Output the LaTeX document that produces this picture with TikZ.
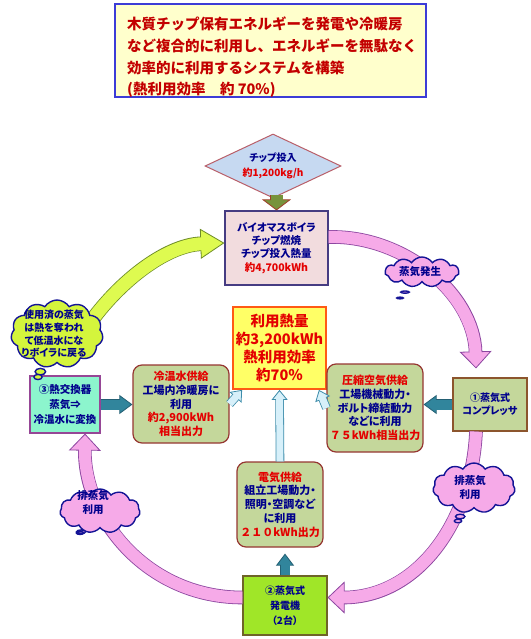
\documentclass[tikz,border=0pt]{standalone}
\usepackage{fontspec}
\setmainfont{Noto Sans CJK JP}[RawFeature=+palt]
\newfontfamily\goalfont{Noto Sans CJK JP}
\usepackage{xcolor}
\usepackage{tikz}
\usetikzlibrary{arrows.meta,shapes.geometric,shapes.symbols,shapes.callouts}

\definecolor{jpblue}{RGB}{0,0,140}
\definecolor{jpred}{RGB}{228,0,0}
\definecolor{goalred}{RGB}{195,0,0}
\definecolor{goalfill}{RGB}{255,255,204}
\definecolor{goalline}{RGB}{60,60,215}
\definecolor{chipfill}{RGB}{198,217,241}
\definecolor{chipline}{RGB}{185,95,105}
\definecolor{olivefill}{RGB}{119,147,60}
\definecolor{oliveline}{RGB}{160,60,40}
\definecolor{boilerfill}{RGB}{242,220,222}
\definecolor{boilerline}{RGB}{70,60,130}
\definecolor{heatfill}{RGB}{255,255,102}
\definecolor{heatline}{RGB}{255,90,20}
\definecolor{supplyfill}{RGB}{196,215,155}
\definecolor{supplyline}{RGB}{150,55,50}
\definecolor{compline}{RGB}{140,85,45}
\definecolor{hexfill}{RGB}{140,245,205}
\definecolor{hexline}{RGB}{150,70,150}
\definecolor{genfill}{RGB}{160,230,40}
\definecolor{genline}{RGB}{110,100,40}
\definecolor{tealfill}{RGB}{49,133,156}
\definecolor{tealline}{RGB}{35,95,115}
\definecolor{icefill}{RGB}{215,240,250}
\definecolor{iceline}{RGB}{60,140,170}
\definecolor{pinkfill}{RGB}{246,170,232}
\definecolor{pinkline}{RGB}{140,70,160}
\definecolor{limefill}{RGB}{222,250,80}
\definecolor{limeline}{RGB}{110,140,40}
\definecolor{cloudline}{RGB}{20,20,150}
\definecolor{cloudlime}{RGB}{212,245,60}

%% block arrow: outline colour, fill colour, shaft width, head width, head length, path
\newcommand\fatarrow[6]{%
  \draw[draw=#1, line width=#3+1.6pt, shorten >=#5-1pt] #6;
  \draw[draw=#1, line width=0.8pt, -{Triangle[width=#4, length=#5, fill=#2]}] #6;
  \draw[draw=#2, line width=#3, shorten >=#5-2pt] #6;
}

\begin{document}
\begin{tikzpicture}[x=1pt,y=-1pt,
    txt/.style={font=\bfseries\fontsize{11}{13.75}\selectfont, text=jpblue, align=center, inner sep=0pt},
    plainbox/.style={draw, line width=1.2pt, txt},
    supplybox/.style={plainbox, rounded corners=9pt, fill=supplyfill, draw=supplyline},
    puff/.style={cloud callout, cloud puffs=11, cloud puff arc=115, cloud ignores aspect,
                 draw=cloudline, line width=1.4pt, callout pointer segments=2,
                 callout pointer start size=.14 of callout, callout pointer end size=.09 of callout}]
  \path[use as bounding box, fill=white] (0,0) rectangle (530,639);

  %% goal statement
  \node[plainbox, draw=goalline, line width=2.5pt, fill=goalfill,
        minimum width=311pt, minimum height=93pt] (goal) at (270.5,50.5) {};
  \node[anchor=west, align=left, inner sep=0pt, text=goalred,
        font=\goalfont\bfseries\fontsize{14.5}{21.7}\selectfont] (goaltext) at (127,57.5)
       {木質チップ保有エネルギーを発電や冷暖房\\
        など複合的に利用し、エネルギーを無駄なく\\
        効率的に利用するシステムを構築\\
        (熱利用効率　約 70\%)};

  %% input and boiler
  \node[diamond, draw=chipline, line width=1pt, fill=chipfill, aspect=2,
        minimum width=136pt, minimum height=64pt, txt,
        font=\bfseries\fontsize{10}{15}\selectfont] (chip) at (273,166)
       {チップ投入\\{\color{jpred}約1,200kg/h}};
  \node[plainbox, draw=boilerline, fill=boilerfill, minimum width=103pt, minimum height=74pt,
        font=\bfseries\fontsize{10.5}{13.2}\selectfont] (boiler) at (276.5,248)
       {バイオマスボイラ\\チップ燃焼\\チップ投入熱量\\{\color{jpred}約4,700kWh}};

  %% heat used
  \node[plainbox, draw=heatline, line width=1.8pt, fill=heatfill, text=jpred,
        minimum width=93pt, minimum height=82pt,
        font=\bfseries\fontsize{14.5}{18.3}\selectfont] (util) at (279.5,348)
       {利用熱量\\約3,200kWh\\熱利用効率\\約70％};

  %% supplies
  \node[supplybox, minimum width=96pt, minimum height=78pt] (cool) at (181,404)
       {{\color{jpred}冷温水供給}\\工場内冷暖房に\\利用\\{\color{jpred}約2,900kWh}\\{\color{jpred}相当出力}};
  \node[supplybox, minimum width=96pt, minimum height=88pt] (air) at (375,408)
       {{\color{jpred}圧縮空気供給}\\工場機械動力・\\ボルト締結動力\\などに利用\\{\color{jpred}{\goalfont ７５}kWh相当出力}};
  \node[supplybox, minimum width=86pt, minimum height=85pt] (elec) at (280,504.5)
       {{\color{jpred}電気供給}\\組立工場動力・\\照明・空調など\\に利用\\{\color{jpred}{\goalfont ２１０}kWh出力}};

  %% machines
  \node[plainbox, draw=compline, fill=supplyfill, minimum width=74pt, minimum height=53pt,
        font=\bfseries\fontsize{10}{13}\selectfont] (comp) at (490,404.5) {①蒸気式\\コンプレッサ};
  \node[plainbox, draw=hexline, fill=hexfill, minimum width=70pt, minimum height=57pt,
        font=\bfseries\fontsize{10.5}{15}\selectfont] (hexch) at (65,404.5) {③熱交換器\\蒸気⇒\\冷温水に変換};
  \node[plainbox, draw=genline, fill=genfill, minimum width=84pt, minimum height=59pt,
        font=\bfseries\fontsize{10}{15}\selectfont] (gen) at (285,605.5) {②蒸気式\\発電機\\（2台）};

  \coordinate (chipfoot) at ([yshift=4pt]chip.south);
  \coordinate (elecfoot) at ([yshift=-6pt]elec.south);
  \coordinate (usedsteam) at (85,330);

  %% steam loop
  \fatarrow{pinkline}{pinkfill}{12pt}{32pt}{17pt}{([yshift=11pt]boiler.east) .. controls +(75,-2) and +(-2,-75) .. ([xshift=-14pt,yshift=9pt]comp.north)}
  \fatarrow{pinkline}{pinkfill}{12pt}{32pt}{17pt}{([xshift=-14pt]comp.south) .. controls +(-4,90) and +(90,0) .. ([yshift=8pt]gen.east)}
  \fatarrow{pinkline}{pinkfill}{12pt}{32pt}{17pt}{([yshift=8pt]gen.west) .. controls +(-95,0) and +(-1,85) .. ([xshift=20pt]hexch.south)}
  \fatarrow{limeline}{limefill}{13pt}{30pt}{24pt}{(usedsteam) .. controls +(30,-45) and +(-60,2) .. ([yshift=5pt]boiler.west)}

  %% feeds
  \fatarrow{oliveline}{olivefill}{12pt}{29pt}{11pt}{(chipfoot -| boiler.north) -- (boiler.north)}
  \fatarrow{tealline}{tealfill}{10pt}{19pt}{13pt}{(comp.west) -- (comp.west -| air.east)}
  \fatarrow{tealline}{tealfill}{10pt}{19pt}{13pt}{(hexch.east) -- (hexch.east -| cool.west)}
  \fatarrow{tealline}{tealfill}{9pt}{18pt}{12pt}{(gen.north) -- (gen.north |- elecfoot)}
  \fatarrow{iceline}{icefill}{7pt}{16pt}{10pt}{(elec.north) -- (util.south)}
  \fatarrow{iceline}{icefill}{7pt}{16pt}{10pt}{(cool.east) -- ([xshift=10pt]util.south west)}
  \fatarrow{iceline}{icefill}{7pt}{16pt}{10pt}{(air.west) -- ([xshift=-8pt]util.south east)}

  %% clouds
  \node[puff, fill=cloudlime, minimum width=92pt, minimum height=68pt,
        callout absolute pointer={(38,377)}] (usedcloud) at (57,334) {};
  \node[txt, font=\bfseries\fontsize{10}{12.7}\selectfont] (usedtext) at (54,334)
       {使用済の蒸気\\は熱を奪われ\\て低温水にな\\りボイラに戻る};
  \node[puff, fill=pinkfill, minimum width=74pt, minimum height=30pt,
        callout absolute pointer={(400,298)}] (steamcloud) at (422,272) {};
  \node[txt, font=\bfseries\fontsize{10.5}{13}\selectfont] (steamtext) at (420,272) {蒸気発生};
  \node[puff, fill=pinkfill, minimum width=82pt, minimum height=50pt,
        callout absolute pointer={(458,521)}] (exhaustR) at (474,488) {};
  \node[txt, font=\bfseries\fontsize{10.5}{14}\selectfont] (exhaustRtext) at (470,488) {排蒸気\\利用};
  \node[puff, fill=pinkfill, minimum width=80pt, minimum height=44pt,
        callout absolute pointer={(80,533)}] (exhaustL) at (100,511) {};
  \node[txt, font=\bfseries\fontsize{10.5}{14}\selectfont] (exhaustLtext) at (93,503) {排蒸気\\利用};
\end{tikzpicture}
\end{document}
